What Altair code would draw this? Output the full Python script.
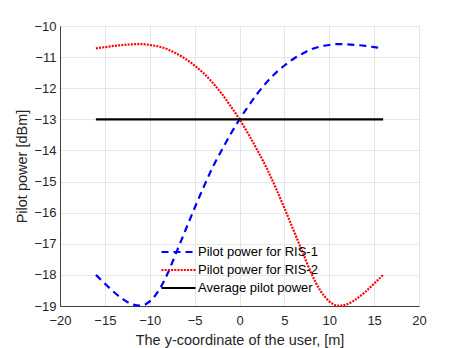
import altair as alt
import pandas as pd

y_coord = list(range(-16, 17))
ris1 = [-18.00, -18.28, -18.55, -18.78, -18.94, -18.99, -18.85, -18.50, -17.95, -17.25,
        -16.55, -15.85, -15.18, -14.55, -14.00, -13.48, -13.00, -12.57, -12.17, -11.82,
        -11.52, -11.27, -11.06, -10.89, -10.75, -10.66, -10.61, -10.58, -10.59, -10.61,
        -10.64, -10.68, -10.72]
ris2 = [-10.72, -10.68, -10.64, -10.61, -10.59, -10.58, -10.61, -10.66, -10.75, -10.89,
        -11.06, -11.27, -11.52, -11.82, -12.17, -12.57, -13.00, -13.48, -14.00, -14.55,
        -15.18, -15.85, -16.55, -17.25, -17.95, -18.50, -18.85, -18.99, -18.94, -18.78,
        -18.55, -18.28, -18.00]
avg = [-13.0] * len(y_coord)

names = ["Pilot power for RIS-1", "Pilot power for RIS-2", "Average pilot power"]
colors = ["#0000ff", "#ff0000", "#000000"]
dashes = [[7, 5], [2, 1.2], [1, 0]]

rows = []
for n, vals in zip(names, [ris1, ris2, avg]):
    for x, v in zip(y_coord, vals):
        rows.append({"y": x, "p": v, "series": n})
df = pd.DataFrame(rows)

FONT = "Liberation Sans"
TXT = "#262626"

chart = alt.Chart(df).mark_line(strokeWidth=2.2, interpolate="monotone").encode(
    x=alt.X("y:Q", scale=alt.Scale(domain=[-20, 20], nice=False),
            axis=alt.Axis(values=list(range(-20, 21, 5)), title="The y-coordinate of the user, [m]",
                          grid=True, ticks=False, labelPadding=8, titlePadding=6, labelFlush=False)),
    y=alt.Y("p:Q", scale=alt.Scale(domain=[-19, -10], nice=False, zero=False),
            axis=alt.Axis(values=list(range(-19, -9)), title="Pilot power [dBm]",
                          grid=True, ticks=False, labelPadding=4, titlePadding=4, labelFlush=False)),
    color=alt.Color("series:N", scale=alt.Scale(domain=names, range=colors),
                    legend=alt.Legend(title=None, orient="none", legendX=108.5, legendY=216,
                                      symbolType="M-2,0H2", symbolSize=289, symbolStrokeWidth=2.2,
                                      symbolFillColor="transparent",
                                      labelFontSize=13, labelFont=FONT, labelColor="#000000",
                                      rowPadding=1, labelOffset=9.5, padding=0)),
    strokeDash=alt.StrokeDash("series:N", scale=alt.Scale(domain=names, range=dashes), legend=None),
    detail="series:N",
).properties(
    width=359, height=280,
    autosize=alt.AutoSizeParams(type="none"),
    padding={"left": 52, "top": 18, "right": 22, "bottom": 42},
).configure_view(
    stroke="#8c8c8c", strokeWidth=1
).configure_axis(
    labelFont=FONT, titleFont=FONT, labelFontSize=13, titleFontSize=14.5,
    labelColor=TXT, titleColor=TXT, titleFontWeight="normal",
    gridColor="#e6e6e6", gridWidth=1, domainColor="#404040", domainWidth=1,
)

chart.save("out.html", embed_options={"renderer": "svg", "actions": False})
